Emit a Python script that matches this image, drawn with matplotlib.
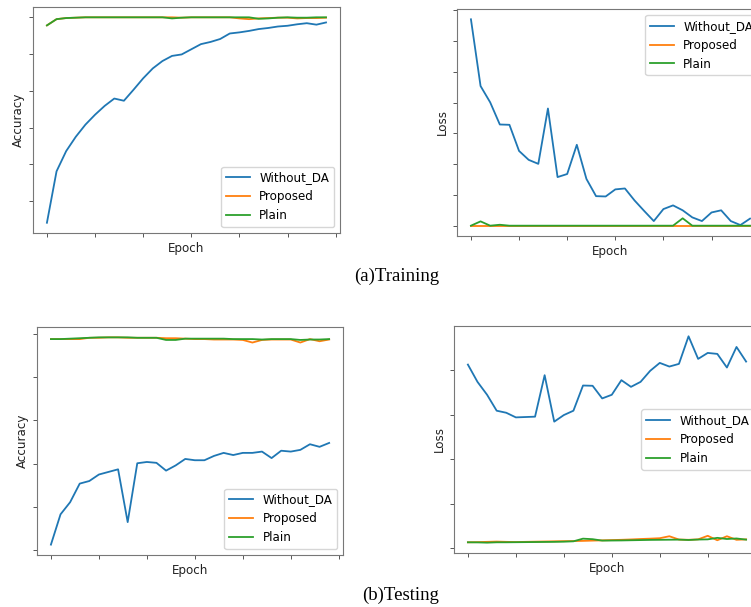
import matplotlib
matplotlib.use('Agg')
import matplotlib.pyplot as plt
from matplotlib.ticker import MultipleLocator

epochs = list(range(30))
labels = ['Without_DA', 'Proposed', 'Plain']

# training accuracy
acc_tr_without = [0.441, 0.581, 0.636, 0.675, 0.708, 0.735, 0.759, 0.779, 0.773, 0.803,
                  0.834, 0.861, 0.881, 0.895, 0.899, 0.913, 0.927, 0.933, 0.941, 0.956,
                  0.959, 0.963, 0.968, 0.971, 0.975, 0.977, 0.981, 0.984, 0.980, 0.986]
acc_tr_proposed = [0.978, 0.995, 0.998, 0.999, 1.0, 1.0, 1.0, 1.0, 1.0, 1.0,
                   1.0, 1.0, 1.0, 1.0, 0.999, 1.0, 1.0, 1.0, 1.0, 1.0,
                   0.997, 0.995, 0.997, 0.998, 0.999, 0.999, 0.997, 0.998, 0.998, 0.999]
acc_tr_plain = [0.978, 0.995, 0.998, 0.999, 1.0, 1.0, 1.0, 1.0, 1.0, 1.0,
                1.0, 1.0, 1.0, 0.997, 0.999, 1.0, 1.0, 1.0, 1.0, 1.0,
                1.0, 1.0, 0.996, 0.997, 0.999, 1.0, 0.999, 0.999, 1.0, 1.0]

# training loss
loss_tr_without = [0.671, 0.454, 0.401, 0.329, 0.328, 0.243, 0.214, 0.201, 0.381, 0.158,
                   0.168, 0.263, 0.152, 0.096, 0.095, 0.118, 0.121, 0.082, 0.048, 0.015,
                   0.054, 0.066, 0.050, 0.027, 0.015, 0.043, 0.050, 0.015, 0.002, 0.023]
loss_tr_proposed = [0.0] * 30
loss_tr_plain = [0.0, 0.014, 0.0, 0.003, 0.0, 0.0, 0.0, 0.0, 0.0, 0.0,
                 0.0, 0.0, 0.0, 0.0, 0.0, 0.0, 0.0, 0.0, 0.0, 0.0,
                 0.0, 0.0, 0.024, 0.0, 0.0, 0.0, 0.0, 0.0, 0.0, 0.0]

# testing accuracy
acc_te_without = [0.513, 0.583, 0.611, 0.654, 0.660, 0.675, 0.681, 0.687, 0.565, 0.701,
                  0.704, 0.702, 0.684, 0.696, 0.711, 0.708, 0.708, 0.718, 0.725, 0.720,
                  0.725, 0.725, 0.728, 0.713, 0.730, 0.728, 0.732, 0.745, 0.739, 0.748]
acc_te_proposed = [0.988, 0.988, 0.988, 0.988, 0.991, 0.991, 0.992, 0.992, 0.991, 0.991,
                   0.991, 0.991, 0.990, 0.990, 0.989, 0.988, 0.988, 0.987, 0.987, 0.987,
                   0.986, 0.980, 0.986, 0.987, 0.987, 0.987, 0.980, 0.988, 0.983, 0.987]
acc_te_plain = [0.988, 0.988, 0.989, 0.990, 0.991, 0.992, 0.992, 0.992, 0.992, 0.991,
                0.991, 0.991, 0.986, 0.986, 0.989, 0.989, 0.989, 0.989, 0.989, 0.988,
                0.988, 0.988, 0.987, 0.988, 0.988, 0.988, 0.986, 0.987, 0.987, 0.988]

# testing loss
loss_te_without = [2.063, 1.869, 1.724, 1.545, 1.522, 1.470, 1.474, 1.478, 1.944, 1.422,
                   1.496, 1.545, 1.828, 1.825, 1.683, 1.724, 1.888, 1.813, 1.869, 1.993,
                   2.082, 2.041, 2.071, 2.381, 2.127, 2.194, 2.183, 2.030, 2.261, 2.097]
loss_te_proposed = [0.067, 0.069, 0.072, 0.075, 0.072, 0.070, 0.072, 0.074, 0.076, 0.078,
                    0.080, 0.081, 0.083, 0.086, 0.089, 0.092, 0.095, 0.099, 0.104, 0.108,
                    0.113, 0.135, 0.098, 0.095, 0.100, 0.140, 0.090, 0.135, 0.095, 0.100]
loss_te_plain = [0.067, 0.066, 0.063, 0.067, 0.067, 0.068, 0.069, 0.070, 0.071, 0.072,
                 0.074, 0.078, 0.108, 0.102, 0.086, 0.087, 0.088, 0.090, 0.092, 0.094,
                 0.095, 0.096, 0.097, 0.093, 0.098, 0.100, 0.117, 0.104, 0.110, 0.097]

fig = plt.figure(figsize=(7.51, 6.07), dpi=100)

panels = [
    ([0.0439, 0.6161, 0.4088, 0.3723], 'Accuracy',
     (acc_tr_without, acc_tr_proposed, acc_tr_plain), 'lower right', 0.1),
    ([0.6085, 0.6112, 0.4088, 0.3740], 'Loss',
     (loss_tr_without, loss_tr_proposed, loss_tr_plain), 'upper right', 0.1),
    ([0.0493, 0.0857, 0.4075, 0.3756], 'Accuracy',
     (acc_te_without, acc_te_proposed, acc_te_plain), 'lower right', 0.1),
    ([0.6045, 0.0890, 0.4075, 0.3740], 'Loss',
     (loss_te_without, loss_te_proposed, loss_te_plain), 'center right', 0.5),
]

fs = 8.6
for rect, ylab, series, loc, step in panels:
    ax = fig.add_axes(rect)
    for s, lab in zip(series, labels):
        ax.plot(epochs, s, label=lab, linewidth=1.3)
    ax.xaxis.set_major_locator(MultipleLocator(5))
    ax.yaxis.set_major_locator(MultipleLocator(step))
    ax.tick_params(labelleft=False, labelbottom=False, color='#555555',
                   length=3, width=0.7, pad=3)
    for sp in ax.spines.values():
        sp.set_color('#777777')
        sp.set_linewidth(0.8)
    ax.set_xlabel('Epoch', fontsize=fs, color='#222222', labelpad=3.5)
    ax.set_ylabel(ylab, fontsize=fs, color='#222222', labelpad=3)
    ax.legend(loc=loc, fontsize=fs)

fig.text(0.5286, 0.545, '(a)Training', family='Liberation Serif', fontsize=13.5,
         ha='center', va='center')
fig.text(0.534, 0.0198, '(b)Testing', family='Liberation Serif', fontsize=13.5,
         ha='center', va='center')

fig.savefig('out.png', dpi=100)
